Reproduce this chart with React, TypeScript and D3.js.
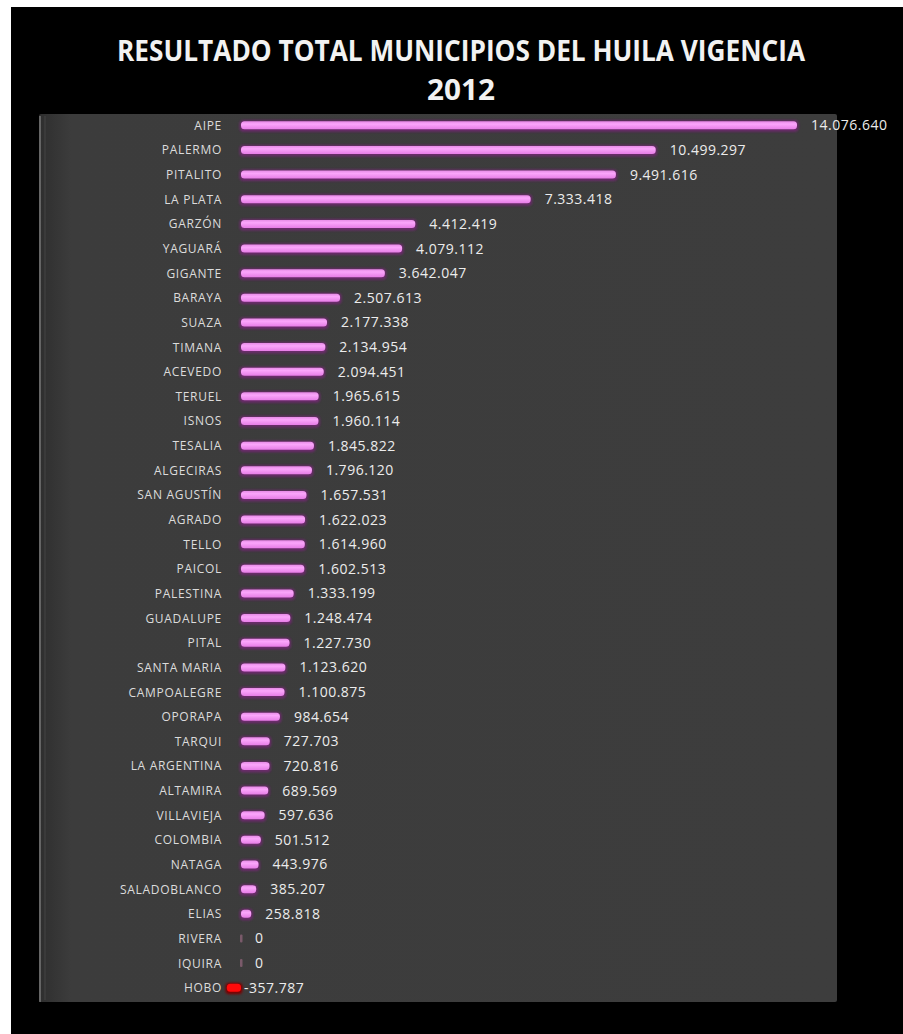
import React from "react";
import * as d3 from "d3";

const categories = [
  "AIPE", "PALERMO", "PITALITO", "LA PLATA", "GARZÓN", "YAGUARÁ", "GIGANTE", "BARAYA",
  "SUAZA", "TIMANA", "ACEVEDO", "TERUEL", "ISNOS", "TESALIA", "ALGECIRAS", "SAN AGUSTÍN",
  "AGRADO", "TELLO", "PAICOL", "PALESTINA", "GUADALUPE", "PITAL", "SANTA MARIA",
  "CAMPOALEGRE", "OPORAPA", "TARQUI", "LA ARGENTINA", "ALTAMIRA", "VILLAVIEJA",
  "COLOMBIA", "NATAGA", "SALADOBLANCO", "ELIAS", "RIVERA", "IQUIRA", "HOBO",
];

const values = [
  14076640, 10499297, 9491616, 7333418, 4412419, 4079112, 3642047, 2507613,
  2177338, 2134954, 2094451, 1965615, 1960114, 1845822, 1796120, 1657531,
  1622023, 1614960, 1602513, 1333199, 1248474, 1227730, 1123620,
  1100875, 984654, 727703, 720816, 689569, 597636,
  501512, 443976, 385207, 258818, 0, 0, -357787,
];

const titleLines = ["RESULTADO TOTAL MUNICIPIOS DEL HUILA VIGENCIA", "2012"];

const fmt = (v: number) => {
  const s = Math.abs(v).toString().replace(/\B(?=(\d{3})+(?!\d))/g, ".");
  return (v < 0 ? "-" : "") + s;
};

export default function App() {
  const W = 903, H = 1034;
  const plot = { x0: 39, x1: 837, y0: 114, y1: 1002 };
  const x = d3.scaleLinear().domain([0, 14076640]).range([241, 797]);
  const y = d3.scaleBand<string>().domain(categories).range([113, 1000]).paddingInner(0).paddingOuter(0);
  const barH = 8;
  const font = "'Open Sans', 'Liberation Sans', sans-serif";

  return (
    <svg width={W} height={H} style={{ position: "absolute", left: 0, top: 0 }}>
      <defs>
        <filter id="glow" x="-10%" y="-100%" width="120%" height="300%">
          <feGaussianBlur stdDeviation="1.2" />
        </filter>
        <linearGradient id="plotg" x1="0" x2="1" y1="0" y2="0">
          <stop offset="0" stopColor="#2e2e2e" />
          <stop offset="0.04" stopColor="#3c3c3c" />
          <stop offset="1" stopColor="#3d3d3d" />
        </linearGradient>
        <linearGradient id="pinkg" x1="0" x2="0" y1="0" y2="1">
          <stop offset="0" stopColor="#e58ae5" />
          <stop offset="0.35" stopColor="#fba5fb" />
          <stop offset="1" stopColor="#e67de6" />
        </linearGradient>
      </defs>
      <rect x={0} y={0} width={W} height={H} fill="#ffffff" />
      <rect x={11} y={7} width={W - 11} height={H - 7} fill="#000000" />
      {/* plot area */}
      <rect x={plot.x0} y={plot.y0} width={plot.x1 - plot.x0} height={plot.y1 - plot.y0} fill="url(#plotg)" rx={2} />
      <line x1={plot.x0 + 1} x2={plot.x0 + 1} y1={plot.y0 + 2} y2={plot.y1} stroke="#8a8a8a" strokeWidth={1.2} />
      <line x1={plot.x0 + 6} x2={plot.x0 + 6} y1={plot.y0 + 2} y2={plot.y1 - 2} stroke="#444" strokeWidth={1} />
      {/* title */}
      {titleLines.map((t, i) => (
        <text key={i} x={461} y={i === 0 ? 61 : 100} textAnchor="middle" fill="#f2f2f2"
          fontFamily={font} fontWeight={700} fontSize={29}
          textLength={i === 0 ? 688 : 68} lengthAdjust="spacingAndGlyphs">{t}</text>
      ))}
      {/* bars */}
      {categories.map((c, i) => {
        const v = values[i];
        const cy = (y(c) as number) + y.bandwidth() / 2;
        const xa = Math.min(x(0), x(v));
        const xb = Math.max(x(0), x(v));
        const w = xb - xa;
        const neg = v < 0;
        return (
          <g key={c}>
            <text x={222} y={cy + 4.5} textAnchor="end" fill="#dcdcdc" fontFamily={font} fontSize={12}
              letterSpacing={0.7}>{c}</text>
            {v !== 0 ? (
              <g>
                <rect x={xa - 1.5} y={cy - barH / 2 - 1} width={w + 3} height={barH + 3.5} rx={4}
                  fill={neg ? "#7a0000" : "#6a2a6a"} filter="url(#glow)" />
                <rect x={xa} y={cy - barH / 2} width={w} height={barH} rx={3.5}
                  fill={neg ? "#ff0a0a" : "url(#pinkg)"} />
              </g>
            ) : (
              <rect x={x(0) - 1} y={cy - 4} width={2.5} height={8} rx={1} fill="#7a5a6a" />
            )}
            <text x={neg ? x(0) + 3 : xb + 14} y={cy + 5} fill="#ececec" fontFamily={font} fontSize={14}
              letterSpacing={0.5}>{fmt(v)}</text>
          </g>
        );
      })}
    </svg>
  );
}
